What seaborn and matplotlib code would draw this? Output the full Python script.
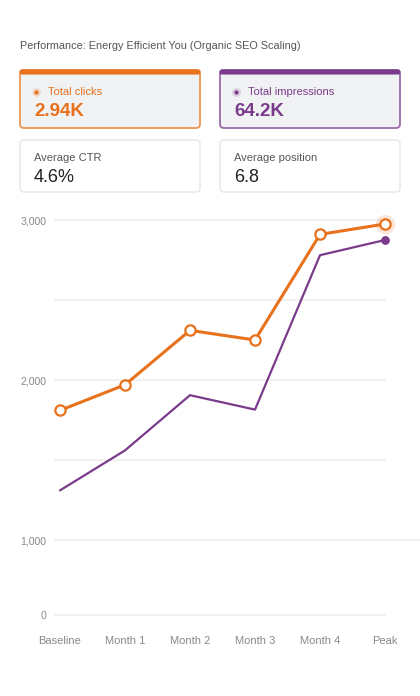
import numpy as np
import pandas as pd
import seaborn as sns
import matplotlib.pyplot as plt
from matplotlib.patches import FancyBboxPatch

# data
periods = ["Baseline", "Month 1", "Month 2", "Month 3", "Month 4", "Peak"]
clicks = [1810, 1970, 2310, 2250, 2910, 2975]
impressions_scaled = [1310, 1560, 1905, 1815, 2780, 2875]
y_ticks = [0, 1000, 2000, 3000]
y_labels = ["0", "1,000", "2,000", "3,000"]
grid_extra = [1500, 2500]

card_titles = ["Total clicks", "Total impressions", "Average CTR", "Average position"]
card_values = ["2.94K", "64.2K", "4.6%", "6.8"]

ORANGE = "#E8711C"
PURPLE = "#7B3B8B"

sns.set_theme(style="white")
plt.rcParams["font.family"] = ["Liberation Sans", "DejaVu Sans"]

W, H = 420, 696
fig = plt.figure(figsize=(W / 100, H / 100), dpi=100)
fig.patch.set_facecolor("white")

# overlay axes in pixel coords for title and cards
ov = fig.add_axes([0, 0, 1, 1])
ov.set_xlim(0, W)
ov.set_ylim(H, 0)
ov.axis("off")

ov.text(20, 46, "Performance: Energy Efficient You (Organic SEO Scaling)",
        fontsize=7.8, color="#555555", va="center")


def card(x, y, w, h, face, edge, lw, top=None):
    ov.add_patch(FancyBboxPatch((x, y), w, h, boxstyle="round,pad=0,rounding_size=4",
                                facecolor=face, edgecolor=edge, linewidth=lw))
    if top:
        ov.add_patch(FancyBboxPatch((x, y), w, 4, boxstyle="round,pad=0,rounding_size=2",
                                    facecolor=top, edgecolor=top, linewidth=0.8))


card(20, 70, 180, 58, "#F1F2F4", "#EE9550", 1.3, ORANGE)
card(220, 70, 180, 58, "#F1F2F4", "#9A6AA6", 1.3, PURPLE)
card(20, 140, 180, 52, "white", "#E3E3E3", 0.9)
card(220, 140, 180, 52, "white", "#E3E3E3", 0.9)

for x0, col, i in [(20, ORANGE, 0), (220, PURPLE, 1)]:
    ov.scatter([x0 + 16], [92], s=40, color=col, alpha=0.2, lw=0)
    ov.scatter([x0 + 16], [92], s=9, color=col, lw=0)
    ov.text(x0 + 28, 92, card_titles[i], fontsize=8, color=col, va="center")
    ov.text(x0 + 14, 112, card_values[i], fontsize=13.5, color=col,
            fontweight="bold", va="center")

for x0, i in [(20, 2), (220, 3)]:
    ov.text(x0 + 14, 158, card_titles[i], fontsize=8, color="#555555", va="center")
    ov.text(x0 + 14, 177, card_values[i], fontsize=13, color="#222222", va="center")

# line chart
ax_left, ax_right = 55, 385
ax_top, ax_bot = 220, 615
ax = fig.add_axes([ax_left / W, 1 - ax_bot / H, (ax_right - ax_left) / W, (ax_bot - ax_top) / H])
ax.set_facecolor("none")


def fwd(v):
    v = np.asarray(v, dtype=float)
    return np.where(v < 1000, v * 0.075, 75 + (v - 1000) * 0.16)


def inv(p):
    p = np.asarray(p, dtype=float)
    return np.where(p < 75, p / 0.075, 1000 + (p - 75) / 0.16)


ax.set_yscale("function", functions=(fwd, inv))
ax.set_ylim(0, 3000)
ax.set_xlim(-5 / 65, 5)

for g in y_ticks + grid_extra:
    ax.axhline(g, color="#F1F1F1", lw=1.5, zorder=0)
# the 1,000 line runs to the figure edge
ax.plot([5, 5 + 35 / 65], [1000, 1000], color="#F1F1F1", lw=1.5, clip_on=False, zorder=0)

df = pd.DataFrame({"period": periods, "x": range(len(periods)),
                   "clicks": clicks, "impressions": impressions_scaled})

sns.lineplot(data=df, x="x", y="impressions", ax=ax, color=PURPLE, lw=1.6)
ax.scatter(df["x"].iloc[-1], df["impressions"].iloc[-1], s=28, color=PURPLE, zorder=5, clip_on=False)

sns.lineplot(data=df, x="x", y="clicks", ax=ax, color=ORANGE, lw=2.2)
ax.scatter(df["x"].iloc[-1], df["clicks"].iloc[-1], s=190, color=ORANGE, alpha=0.18,
           lw=0, zorder=5, clip_on=False)
ax.scatter(df["x"], df["clicks"], s=55, facecolor="white", edgecolor=ORANGE,
           linewidth=1.6, zorder=6, clip_on=False)
for l in ax.lines:
    l.set_clip_on(False)

ax.set_yticks(y_ticks)
ax.set_yticklabels(y_labels)
ax.set_xticks(range(len(periods)))
ax.set_xticklabels(periods)
ax.yaxis.set_minor_locator(plt.NullLocator())
ax.tick_params(axis="both", length=0, labelsize=8, labelcolor="#888888")
ax.tick_params(axis="y", pad=6, labelsize=7.6)
ax.tick_params(axis="x", pad=15)
ax.set_xlabel("")
ax.set_ylabel("")
sns.despine(ax=ax, left=True, bottom=True)
ax.grid(False)

fig.savefig("out.png", dpi=100, facecolor="white")
